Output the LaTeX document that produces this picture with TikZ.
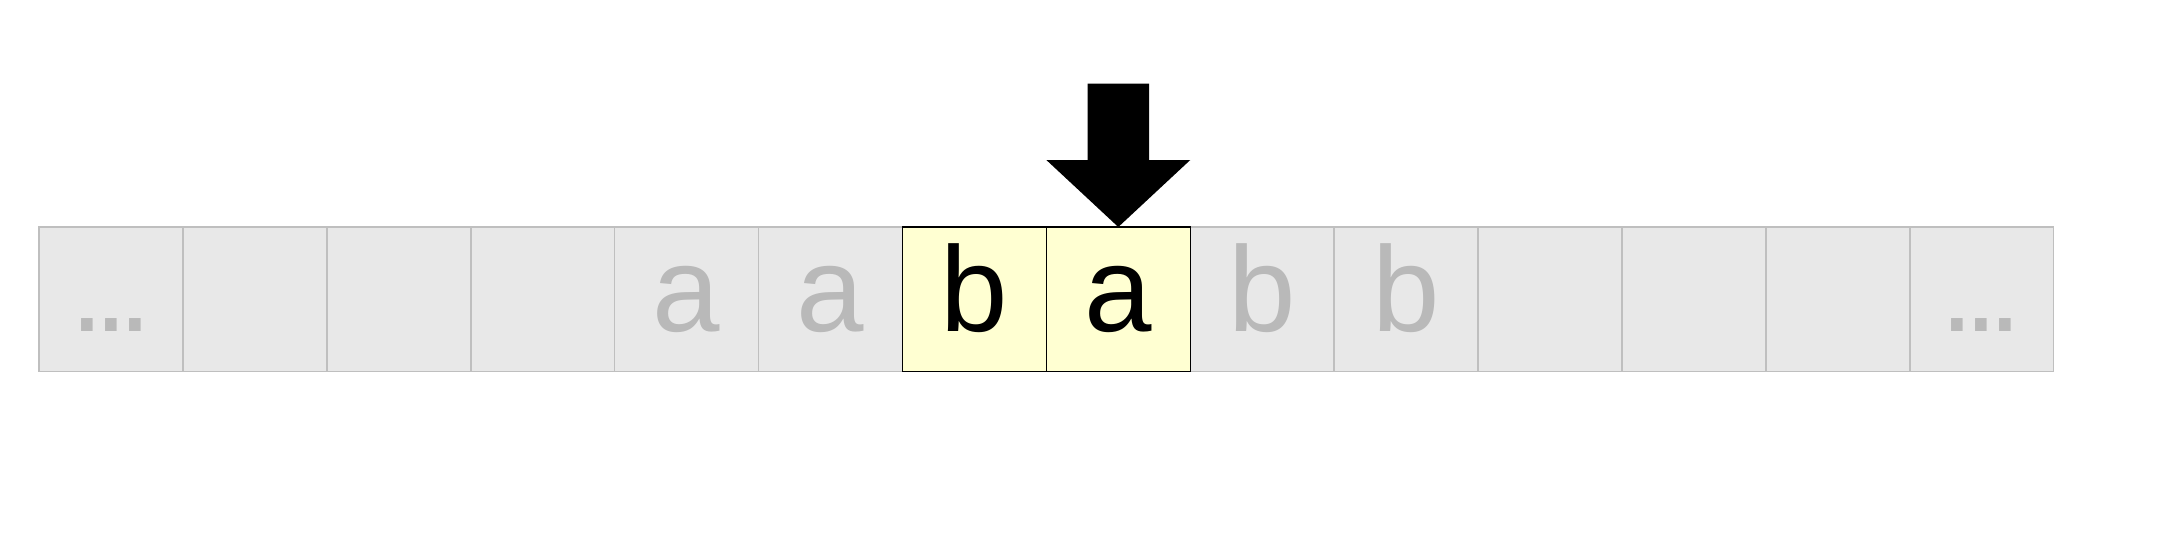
\documentclass[tikz,border=0pt]{standalone}
\usepackage{fontspec}
\setmainfont{Liberation Sans}
\usepackage{xcolor}
\usepackage{tikz}
\usetikzlibrary{positioning}
\definecolor{cellgray}{HTML}{E8E8E8}
\definecolor{cellline}{HTML}{BFBFBF}
\definecolor{fadedink}{HTML}{B9B9B9}
\definecolor{headyellow}{HTML}{FFFFD2}
\newcommand{\tightdots}{.\kern-.08em.\kern-.08em.}
\tikzset{
  tapecell/.style={draw=cellline,fill=cellgray,text=fadedink,line width=0.85pt,
    minimum width=2.878cm,minimum height=2.89cm,inner sep=0pt,outer sep=0pt,
    text height=1.27cm,text depth=0pt,font=\fontsize{69}{69}\selectfont},
  headcell/.style={tapecell,draw=black,fill=headyellow,text=black},
  headarrow/.style={fill=black}
}
\begin{document}
\begin{tikzpicture}[node distance=0pt]
  \useasboundingbox (0,0) rectangle (43.64,-10.88);
  \node[tapecell] (c0) at (2.22,-5.985) {\tightdots};
  \node[tapecell,right=of c0] (c1) {};
  \node[tapecell,right=of c1] (c2) {};
  \node[tapecell,right=of c2] (c3) {};
  \node[tapecell,right=of c3] (c4) {a};
  \node[tapecell,right=of c4] (c5) {a};
  \node[tapecell,right=5.756cm of c5] (c8) {b};
  \node[tapecell,right=of c8] (c9) {b};
  \node[tapecell,right=of c9] (c10) {};
  \node[tapecell,right=of c10] (c11) {};
  \node[tapecell,right=of c11] (c12) {};
  \node[tapecell,right=of c12] (c13) {\tightdots};
  % cells under the head
  \node[headcell,right=of c5] (c6) {b};
  \node[headcell,right=of c6] (c7) {a};
  \fill[headarrow] (c7.north) -- ++(-1.439,1.34) -- ++(0.824,0) -- ++(0,1.53)
    -- ++(1.23,0) -- ++(0,-1.53) -- ++(0.824,0) -- cycle;
\end{tikzpicture}
\end{document}
